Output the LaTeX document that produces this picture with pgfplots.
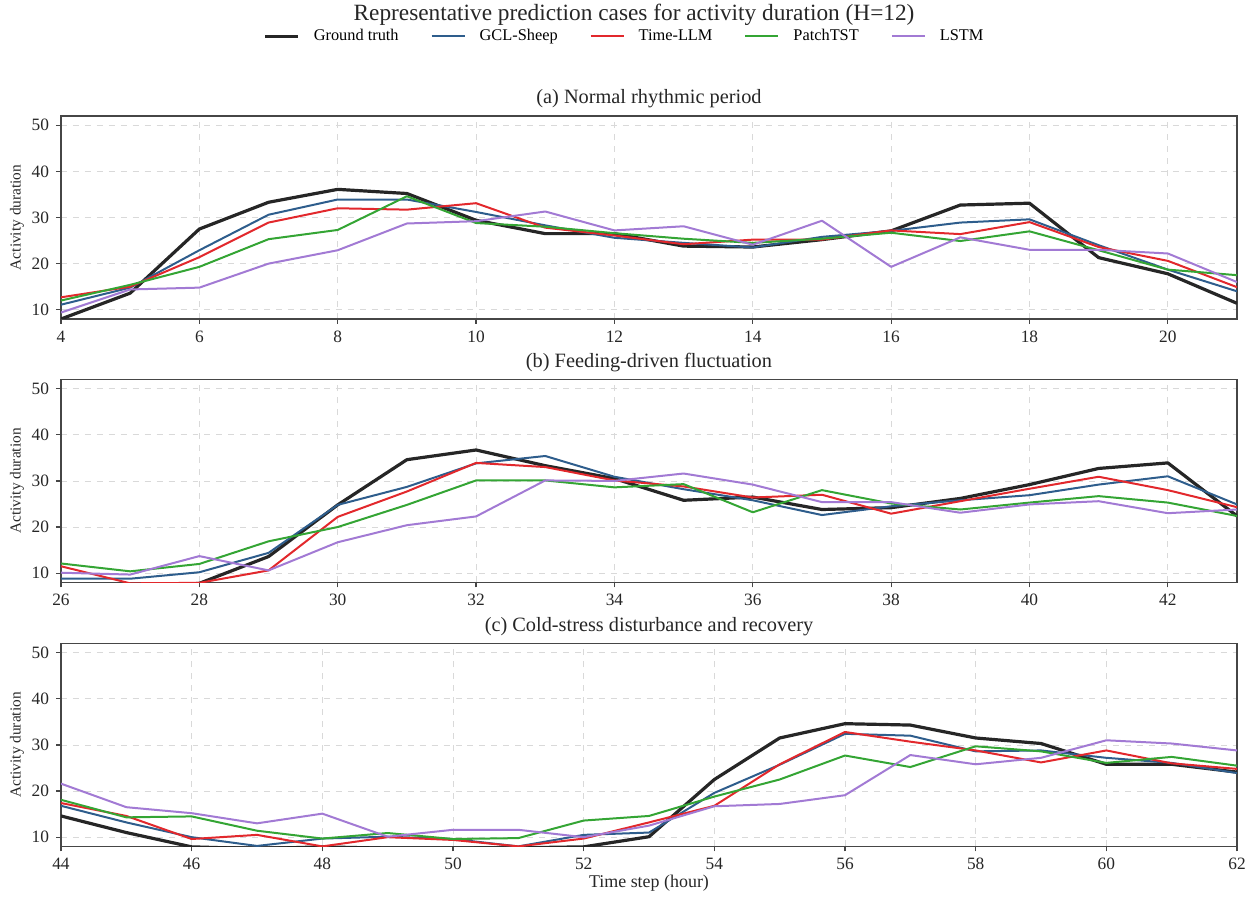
\documentclass[border=0pt]{standalone}
\usepackage{fontspec}
\setmainfont{Liberation Serif}
\usepackage{pgfplots}
\usepackage{pgfplotstable}
\pgfplotsset{compat=1.18}

\definecolor{cgt}{RGB}{38,38,38}
\definecolor{cgcl}{RGB}{46,93,140}
\definecolor{cllm}{RGB}{226,40,44}
\definecolor{cpatch}{RGB}{52,165,52}
\definecolor{clstm}{RGB}{162,122,212}
\definecolor{cframe}{RGB}{70,70,70}

\pgfplotstableread{
x gt gcl tllm patch lstm
4 8.0 11.1 12.7 12.0 9.4
5 13.6 14.8 15.0 15.4 14.4
6 27.5 22.9 21.4 19.3 14.8
7 33.3 30.6 28.9 25.3 20.0
8 36.1 33.9 32.0 27.3 22.9
9 35.2 33.9 31.7 34.6 28.7
10 29.4 31.2 33.1 28.8 29.2
11 26.5 28.3 27.8 28.0 31.3
12 26.5 25.6 26.1 26.6 27.2
13 23.8 24.5 24.2 25.4 28.1
14 23.6 23.5 25.2 24.5 24.1
15 25.2 25.8 25.2 25.4 29.3
16 27.1 27.1 27.2 26.7 19.3
17 32.7 28.9 26.4 24.9 25.7
18 33.1 29.6 29.0 27.0 23.0
19 21.3 24.0 23.6 22.9 23.0
20 17.8 18.7 20.6 18.7 22.2
21 11.4 14.0 14.9 17.5 16.0
}\tableA

\pgfplotstableread{
x gt gcl tllm patch lstm
26 7.0 8.8 11.5 12.1 10.1
27 6.5 8.8 7.8 10.4 9.7
28 7.8 10.2 7.9 12.0 13.7
29 13.6 14.4 10.6 16.9 10.6
30 24.8 24.8 22.2 20.0 16.7
31 34.6 28.7 27.7 24.8 20.4
32 36.7 33.8 33.9 30.1 22.3
33 33.3 35.4 33.0 30.1 30.1
34 30.5 30.9 30.1 28.6 30.0
35 25.8 28.2 28.8 29.3 31.6
36 26.5 25.8 26.4 23.2 29.2
37 23.8 22.6 27.0 28.0 25.4
38 24.2 24.5 22.9 25.1 25.4
39 26.2 25.8 25.6 23.8 23.1
40 29.2 26.9 28.3 25.3 24.9
41 32.7 29.2 30.9 26.7 25.6
42 33.9 31.0 28.0 25.3 23.0
43 22.4 24.9 24.3 22.4 23.8
}\tableB

\pgfplotstableread{
x gt gcl tllm patch lstm
44 14.6 16.8 17.4 18.1 21.6
45 11.0 13.2 14.6 14.3 16.5
46 7.9 10.0 9.6 14.5 15.2
47 7.5 8.1 10.5 11.4 13.0
48 7.9 9.7 8.0 9.7 15.1
49 7.6 10.1 10.0 10.9 10.1
50 7.6 9.6 9.4 9.6 11.6
51 7.7 8.0 8.0 9.8 11.6
52 7.9 10.5 9.7 13.6 10.0
53 10.1 11.0 13.2 14.6 12.5
54 22.5 19.6 16.8 18.8 16.7
55 31.5 25.7 25.8 22.5 17.2
56 34.6 32.4 32.8 27.7 19.1
57 34.3 32.0 30.7 25.2 27.8
58 31.5 28.6 28.8 29.7 25.8
59 30.3 28.8 26.2 28.6 27.2
60 25.8 27.2 28.8 26.1 31.0
61 25.8 26.1 26.0 27.4 30.3
62 24.1 23.9 24.8 25.5 28.8
}\tableC

\pgfplotsset{
  panel/.style={
    scale only axis, width=588bp, height=101.5bp,
    anchor=north west,
    ymin=8, ymax=52, ytick={10,20,30,40,50},
    xtick pos=bottom, ytick pos=left,
    grid=major,
    grid style={dashed, color=black!15, line width=0.4bp},
    axis line style={cframe, line width=0.8bp},
    tick style={cframe, line width=0.6bp},
    tick align=outside, major tick length=2.5bp,
    /pgf/number format/assume math mode=true,
    ticklabel style={font=\fontsize{8.7}{10}\selectfont, color=black!85},
    ylabel={Activity duration},
    ylabel style={at={(axis description cs:-0.0374,0.5)}, anchor=center, font=\fontsize{7.7}{10}\selectfont, color=black!85},
    title style={at={(0.5,1)}, anchor=south, yshift=-5.5bp, font=\fontsize{10.2}{12}\selectfont, color=black!85},
    every axis plot/.append style={line width=1bp, line join=round},
  },
  gtstyle/.style={cgt, line width=1.6bp},
}

\begin{document}
\begin{tikzpicture}
\useasboundingbox (0,0) rectangle (626bp,-448.5bp);
\node[font=\fontsize{11.7}{13}\selectfont, color=black!85] at (317bp,-7.3bp) {Representative prediction cases for activity duration (H=12)};

\begin{axis}[panel, at={(30.5bp,-58bp)},
  xmin=4, xmax=21, xtick={4,6,...,20},
  title={(a) Normal rhythmic period},
  legend columns=5,
  legend style={at={(0.48,1.392)}, anchor=center, draw=none, fill=none,
    font=\fontsize{8.2}{9}\selectfont,
    /tikz/every even column/.append style={column sep=14bp}},
  legend image code/.code={\draw[#1] (0bp,0bp) -- (16.5bp,0bp); \path (21.5bp,0bp);},
]
\addplot[gtstyle] table[x=x,y=gt]{\tableA};
\addlegendentry{Ground truth}
\addplot[cgcl] table[x=x,y=gcl]{\tableA};
\addlegendentry{GCL-Sheep}
\addplot[cllm] table[x=x,y=tllm]{\tableA};
\addlegendentry{Time-LLM}
\addplot[cpatch] table[x=x,y=patch]{\tableA};
\addlegendentry{PatchTST}
\addplot[clstm] table[x=x,y=lstm]{\tableA};
\addlegendentry{LSTM}
\end{axis}

\begin{axis}[panel, at={(30.5bp,-189.7bp)},
  xmin=26, xmax=43, xtick={26,28,...,42},
  title={(b) Feeding-driven fluctuation},
]
\addplot[gtstyle] table[x=x,y=gt]{\tableB};
\addplot[cgcl] table[x=x,y=gcl]{\tableB};
\addplot[cllm] table[x=x,y=tllm]{\tableB};
\addplot[cpatch] table[x=x,y=patch]{\tableB};
\addplot[clstm] table[x=x,y=lstm]{\tableB};
\end{axis}

\begin{axis}[panel, at={(30.5bp,-321.7bp)},
  xmin=44, xmax=62, xtick={44,46,...,62},
  title={(c) Cold-stress disturbance and recovery},
  xlabel={Time step (hour)},
  xlabel style={font=\fontsize{9}{10}\selectfont, color=black!85, yshift=4.5bp},
]
\addplot[gtstyle] table[x=x,y=gt]{\tableC};
\addplot[cgcl] table[x=x,y=gcl]{\tableC};
\addplot[cllm] table[x=x,y=tllm]{\tableC};
\addplot[cpatch] table[x=x,y=patch]{\tableC};
\addplot[clstm] table[x=x,y=lstm]{\tableC};
\end{axis}
\end{tikzpicture}
\end{document}
